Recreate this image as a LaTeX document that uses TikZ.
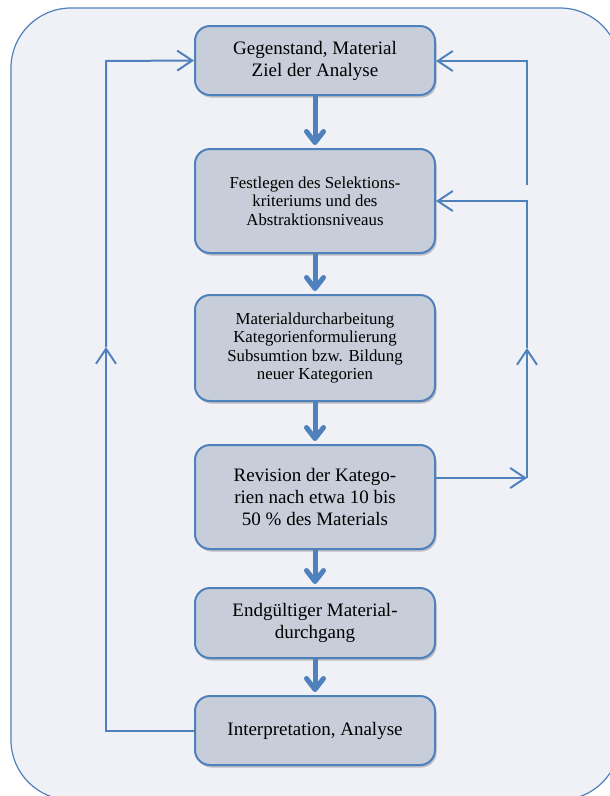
\documentclass[tikz,border=0pt]{standalone}
\usepackage{fontspec}
\setmainfont{Liberation Serif}
\usetikzlibrary{arrows.meta,shadows}
\definecolor{frameblue}{HTML}{4F81BD}
\definecolor{bgfill}{HTML}{EFF1F6}
\definecolor{boxfill}{HTML}{C7CED9}
\tikzset{
  frame/.style={draw=frameblue,line width=1.2pt,fill=bgfill,rounded corners=60pt},
  box/.style={draw=frameblue,line width=2pt,fill=boxfill,rounded corners=15pt,
    minimum width=240pt,inner sep=0pt,align=center,text=black,
    drop shadow={shadow xshift=1.5pt,shadow yshift=-2.5pt,opacity=0.22,fill=black}},
  bigfont/.style={font=\fontsize{19}{22}\selectfont},
  smallfont/.style={font=\fontsize{16.8}{18.5}\selectfont},
  conn/.style={draw=frameblue,line width=2pt},
  barb/.style={-{Straight Barb[length=15pt,width=20pt]}},
  flowarrow/.style={draw=frameblue,line width=5pt,
    -{Straight Barb[length=11pt,width=17pt,round]},shorten >=3pt}
}
\begin{document}
\begin{tikzpicture}[x=1pt,y=-1pt]
\fill[white] (0,0) rectangle (610,796);
\useasboundingbox (0,0) rectangle (610,796);
\draw[frame] (11,8) rectangle (620,800);

\node[box,bigfont,minimum height=69pt] (b1) at (315,60.5) {Gegenstand, Material\\Ziel der Analyse};
\node[box,smallfont,minimum height=104pt] (b2) at (315,201) {Festlegen des Selektions-\\kriteriums und des\\Abstraktionsniveaus};
\node[box,smallfont,minimum height=106pt] (b3) at (315,348) {Materialdurcharbeitung\\Kategorienformulierung\\Subsumtion bzw. Bildung\\neuer Kategorien};
\node[box,bigfont,minimum height=104pt] (b4) at (315,497) {Revision der Katego-\\rien nach etwa 10 bis\\50 \% des Materials};
\node[box,bigfont,minimum height=70pt] (b5) at (315,623) {Endgültiger Material-\\durchgang};
\node[box,bigfont,minimum height=69pt] (b6) at (315,730.5) {Interpretation, Analyse};

\draw[flowarrow] (b1.south) -- (b2.north);
\draw[flowarrow] (b2.south) -- (b3.north);
\draw[flowarrow] (b3.south) -- (b4.north);
\draw[flowarrow] (b4.south) -- (b5.north);
\draw[flowarrow] (b5.south) -- (b6.north);

% left feedback loop
\coordinate (lb) at (106,730.5);
\coordinate (lm) at (106,347);
\coordinate (lt) at (106,61);
\draw[conn,barb] (b6.west) -- (lb) -- (lm);
\draw[conn,barb] (lm) -- (lt) -- (b1.west);

% right feedback loops
\coordinate (r4) at (527,478);
\coordinate (rm) at (527,348);
\coordinate (r2) at (527,201);
\coordinate (ru) at (527,185);
\coordinate (rt) at (527,61);
\draw[conn,barb] (b4.east |- r4) -- (r4);
\draw[conn,barb] (r4) -- (rm);
\draw[conn,barb] (rm) -- (r2) -- (b2.east);
\draw[conn,barb] (ru) -- (rt) -- (b1.east |- rt);
\end{tikzpicture}
\end{document}
